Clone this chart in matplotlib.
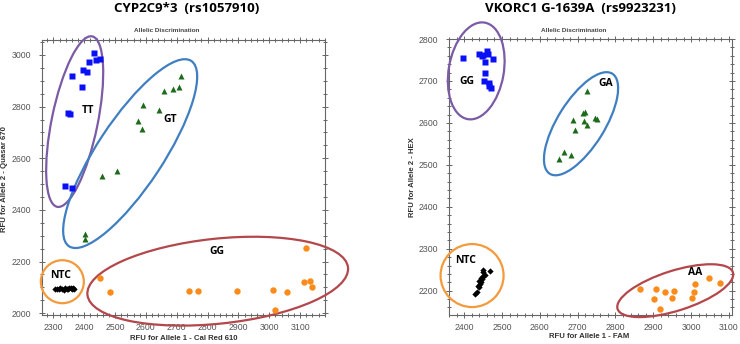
import matplotlib
matplotlib.use("Agg")
import matplotlib.pyplot as plt
from matplotlib.patches import Ellipse
from matplotlib.transforms import ScaledTranslation
from matplotlib.ticker import MultipleLocator

# left panel: CYP2C9*3 (rs1057910), Cal Red 610 vs Quasar 670
cyp_tt_x = [2432, 2414, 2450, 2437, 2395, 2410, 2361, 2392, 2347, 2354, 2339, 2360]
cyp_tt_y = [3008, 2972, 2985, 2981, 2942, 2933, 2919, 2875, 2775, 2772, 2492, 2486]
cyp_gt_x = [2713, 2708, 2687, 2659, 2592, 2644, 2574, 2587, 2505, 2459, 2402, 2402]
cyp_gt_y = [2919, 2875, 2867, 2862, 2808, 2788, 2746, 2714, 2551, 2531, 2306, 2288]
cyp_gg_x = [2452, 2484, 2739, 2768, 2896, 3012, 3057, 3020, 3120, 3112, 3132, 3140]
cyp_gg_y = [2136, 2084, 2086, 2086, 2085, 2088, 2082, 2014, 2251, 2121, 2126, 2100]
cyp_ntc_x = [2305, 2312, 2318, 2322, 2328, 2333, 2338, 2343, 2348, 2352, 2356, 2360, 2364, 2368]
cyp_ntc_y = [2093, 2095, 2092, 2096, 2094, 2091, 2097, 2094, 2092, 2096, 2098, 2094, 2097, 2095]

# right panel: VKORC1 G-1639A (rs9923231), FAM vs HEX
vk_gg_x = [2396, 2439, 2448, 2460, 2463, 2454, 2477, 2454, 2452, 2466, 2466, 2470, 2450]
vk_gg_y = [2755, 2765, 2759, 2771, 2765, 2744, 2752, 2718, 2699, 2695, 2689, 2684, 2762]
vk_ga_x = [2726, 2713, 2720, 2687, 2716, 2725, 2745, 2751, 2694, 2665, 2650, 2683]
vk_ga_y = [2676, 2624, 2626, 2608, 2604, 2596, 2612, 2610, 2583, 2531, 2515, 2523]
vk_aa_x = [2864, 2908, 2903, 2932, 2954, 2950, 2917, 3007, 3009, 3002, 3048, 3075]
vk_aa_y = [2203, 2203, 2179, 2197, 2200, 2182, 2157, 2198, 2216, 2182, 2231, 2218]
vk_ntc_x = [2429, 2434, 2440, 2442, 2440, 2444, 2449, 2446, 2451, 2449, 2469, 2444, 2437, 2456]
vk_ntc_y = [2193, 2197, 2209, 2216, 2224, 2230, 2236, 2228, 2244, 2250, 2248, 2221, 2212, 2238]

BLUE = "#0a10f5"
GREEN = "#1b6b1b"
ORANGE = "#fb8c1c"
PURPLE = "#7b5ba5"
RINGBLUE = "#3f7fc1"
RED = "#b3474b"
RINGORANGE = "#f39a3c"

fig = plt.figure(figsize=(7.4, 3.44), dpi=100)
ax1 = fig.add_axes([42 / 740, 1 - 315 / 344, 283 / 740, 275 / 344])
ax2 = fig.add_axes([449 / 740, 1 - 315 / 344, 283 / 740, 276 / 344])


def ring(ax, cx, cy, w, h, ang, col):
    # ellipse sized in screen pixels, centred on a data point
    tr = fig.dpi_scale_trans + ScaledTranslation(cx, cy, ax.transData)
    ax.add_patch(Ellipse((0, 0), w / 100, h / 100, angle=ang, transform=tr,
                         fill=False, ec=col, lw=1.6, clip_on=False, zorder=3))


def style(ax, xlim, ylim, ymaj, ymin):
    ax.set_xlim(*xlim)
    ax.set_ylim(*ylim)
    ax.xaxis.set_major_locator(MultipleLocator(100))
    ax.xaxis.set_minor_locator(MultipleLocator(20))
    ax.yaxis.set_major_locator(MultipleLocator(ymaj))
    ax.yaxis.set_minor_locator(MultipleLocator(ymin))
    ax.tick_params(which="both", direction="inout", top=True, right=True,
                   labelsize=6.3, labelcolor="#555555", color="#666666", width=0.7)
    ax.tick_params(which="major", length=4)
    ax.tick_params(which="minor", length=2.5)
    ax.tick_params(axis="x", which="major", pad=4)
    ax.tick_params(axis="y", which="major", pad=6)
    for s in ax.spines.values():
        s.set_color("#666666")
        s.set_linewidth(0.8)
    for lab in ax.get_xticklabels() + ax.get_yticklabels():
        lab.set_fontfamily("Liberation Sans")


def pts(ax, x, y, m, c, ms):
    ax.plot(x, y, m, color=c, ms=ms, mec="none", linestyle="none", zorder=4)


lab_font = dict(fontweight="bold", fontsize=7.5, family="Open Sans", ha="center", va="center")

# left
pts(ax1, cyp_tt_x, cyp_tt_y, "s", BLUE, 4.4)
pts(ax1, cyp_gt_x, cyp_gt_y, "^", GREEN, 4.8)
pts(ax1, cyp_gg_x, cyp_gg_y, "o", ORANGE, 4.6)
pts(ax1, cyp_ntc_x, cyp_ntc_y, "D", "black", 3.2)
ring(ax1, 2369, 2742, 174, 46, 78.4, PURPLE)
ring(ax1, 2549, 2618, 222, 66, 56.6, RINGBLUE)
ring(ax1, 2833, 2124, 262, 85, 6, RED)
ring(ax1, 2329, 2122, 43, 43, 0, RINGORANGE)
ax1.text(2411, 2786, "TT", **lab_font)
ax1.text(2679, 2749, "GT", **lab_font)
ax1.text(2830, 2237, "GG", **lab_font)
ax1.text(2322, 2147, "NTC", **lab_font)
style(ax1, (2263, 3181), (1993, 3058), 200, 50)

# right
pts(ax2, vk_gg_x, vk_gg_y, "s", BLUE, 4.4)
pts(ax2, vk_ga_x, vk_ga_y, "^", GREEN, 4.8)
pts(ax2, vk_aa_x, vk_aa_y, "o", ORANGE, 4.6)
pts(ax2, vk_ntc_x, vk_ntc_y, "D", "black", 3.2)
ring(ax2, 2432, 2724, 98, 55, 80, PURPLE)
ring(ax2, 2709, 2598, 118, 47, 58, RINGBLUE)
ring(ax2, 2958, 2200, 121, 40, 17.6, RED)
ring(ax2, 2421, 2236, 63, 63, 0, RINGORANGE)
ax2.text(2407, 2699, "GG", **lab_font)
ax2.text(2773, 2695, "GA", **lab_font)
ax2.text(3011, 2244, "AA", **lab_font)
ax2.text(2405, 2273, "NTC", **lab_font)
style(ax2, (2360, 3108), (2142, 2800), 100, 20)

# titles and labels
W, H = 740, 344
tfont = dict(fontweight="bold", fontsize=9.5, family="Open Sans", ha="center", va="center")
fig.text(187 / W, 1 - 8.5 / H, "CYP2C9*3  (rs1057910)", **tfont)
fig.text(580 / W, 1 - 8.5 / H, "VKORC1 G-1639A  (rs9923231)", **tfont)

sfont = dict(fontweight="bold", fontsize=4.6, family="Liberation Sans", color="#444444",
             ha="center", va="center")
fig.text(167 / W, 1 - 30 / H, "Allelic Discrimination", **sfont)
fig.text(574 / W, 1 - 30 / H, "Allelic Discrimination", **sfont)

afont = dict(fontweight="bold", fontsize=5.6, family="Liberation Sans", color="#333333",
             ha="center", va="center")
fig.text(184 / W, 1 - 338 / H, "RFU for Allele 1 - Cal Red 610", **afont)
fig.text(589 / W, 1 - 337 / H, "RFU for Allele 1 - FAM", **afont)
fig.text(5 / W, 1 - 179 / H, "RFU for Allele 2 - Quasar 670", rotation=90, **afont)
fig.text(412 / W, 1 - 177 / H, "RFU for Allele 2 - HEX", rotation=90, **afont)

fig.savefig("out.png", dpi=100)
